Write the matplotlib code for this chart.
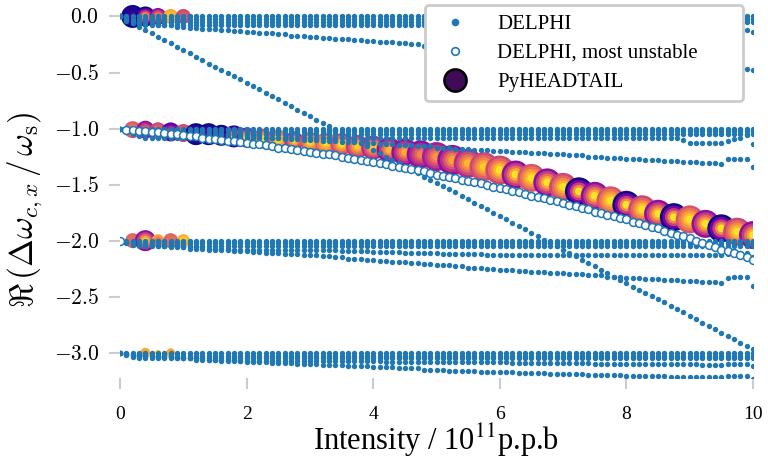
import numpy as np
import matplotlib.pyplot as plt
from matplotlib.lines import Line2D

plt.rcParams['font.family'] = ['Liberation Serif', 'DejaVu Serif']
plt.rcParams['mathtext.fontset'] = 'cm'

# intensity scan of DELPHI (10^11 p.p.b)
intensity = np.linspace(0, 10, 101)

# DELPHI azimuthal mode 0 branch
mode_0_a = [0.0] * 101
mode_0_b = [0.0, -0.01, -0.02] + [-0.025] * 98
mode_0_c = [0.0, -0.02, -0.04] + [-0.05] * 98
mode_0_d = [0.0, -0.03, -0.05, -0.07] + [-0.08] * 94 + [-0.10, -0.12, -0.14]
mode_0_e = [0.0, -0.04, -0.06, -0.06, -0.07, -0.07, -0.08, -0.08, -0.08, -0.09,
            -0.09, -0.10, -0.10, -0.11, -0.11, -0.11, -0.12, -0.12, -0.13, -0.13,
            -0.14, -0.14, -0.15, -0.15, -0.15, -0.16, -0.16, -0.17, -0.17, -0.17,
            -0.18, -0.18, -0.19, -0.19, -0.20, -0.20, -0.20, -0.21, -0.21, -0.22,
            -0.22, -0.23, -0.23, -0.23, -0.24, -0.24, -0.25, -0.25, -0.26, -0.26,
            -0.27, -0.27, -0.27, -0.28, -0.28, -0.29, -0.29, -0.29, -0.30, -0.30,
            -0.31, -0.31, -0.32, -0.32, -0.32, -0.33, -0.33, -0.34, -0.34, -0.35,
            -0.35, -0.35, -0.36, -0.36, -0.37, -0.37, -0.38, -0.38, -0.38, -0.39,
            -0.39, -0.40, -0.40, -0.41, -0.41, -0.41, -0.42, -0.42, -0.43, -0.43,
            -0.44, -0.44, -0.44, -0.45, -0.45, -0.46, -0.46, -0.47, -0.47, -0.47,
            -0.48]
mode_0_diag = [0.0, -0.03, -0.06, -0.09, -0.12, -0.15, -0.18, -0.21, -0.24, -0.27,
               -0.30, -0.33, -0.36, -0.39, -0.42, -0.45, -0.48, -0.50, -0.53, -0.56,
               -0.59, -0.62, -0.65, -0.68, -0.71, -0.74, -0.77, -0.80, -0.83, -0.86,
               -0.89, -0.92, -0.95, -0.98, -1.01, -1.04, -1.07, -1.10, -1.13, -1.16,
               -1.19, -1.22, -1.25, -1.28, -1.31, -1.34, -1.37, -1.40, -1.43, -1.46,
               -1.49, -1.51, -1.54, -1.57, -1.60, -1.63, -1.66, -1.69, -1.72, -1.75,
               -1.78, -1.81, -1.84, -1.87, -1.90, -1.93, -1.96, -1.99, -2.02, -2.05,
               -2.08, -2.11, -2.14, -2.17, -2.20, -2.23, -2.26, -2.29, -2.32, -2.35,
               -2.38, -2.41, -2.44, -2.47, -2.49, -2.52, -2.55, -2.58, -2.61, -2.64,
               -2.67, -2.70, -2.73, -2.76, -2.79, -2.82, -2.85, -2.88, -2.91, -2.94,
               -2.97]

# mode -1 branch
mode_1_a = [-1.0] * 101
mode_1_b = [-1.0, -1.01, -1.02] + [-1.025] * 98
mode_1_c = [-1.0, -1.02, -1.04] + [-1.05] * 98
mode_1_d = ([-1.0, -1.03, -1.05, -1.07] + [-1.08] * 85
            + [-1.10, -1.13, -1.13, -1.13, -1.13, -1.13, -1.13, -1.11, -1.09, -1.08, -1.06, -1.14])
mode_1_e = [-1.00, -1.00, -1.01, -1.01, -1.01, -1.02, -1.02, -1.02, -1.03, -1.03,
            -1.03, -1.04, -1.04, -1.04, -1.05, -1.05, -1.05, -1.06, -1.06, -1.06,
            -1.07, -1.07, -1.07, -1.08, -1.08, -1.08, -1.09, -1.09, -1.09, -1.10,
            -1.10, -1.10, -1.11, -1.11, -1.11, -1.12, -1.12, -1.12, -1.13, -1.13,
            -1.13, -1.14, -1.14, -1.14, -1.15, -1.15, -1.15, -1.16, -1.16, -1.16,
            -1.17, -1.17, -1.17, -1.18, -1.18, -1.18, -1.19, -1.19, -1.19, -1.20,
            -1.20, -1.20, -1.21, -1.21, -1.21, -1.22, -1.22, -1.22, -1.23, -1.23,
            -1.23, -1.24, -1.24, -1.24, -1.25, -1.25, -1.25, -1.26, -1.26, -1.26,
            -1.27, -1.27, -1.27, -1.28, -1.28, -1.28, -1.29, -1.29, -1.29, -1.30,
            -1.30, -1.30, -1.31, -1.31, -1.31, -1.32, -1.27, -1.27, -1.27, -1.27,
            -1.34]

# mode -2 branch
mode_2_a = [-2.0] * 101
mode_2_b = [-2.0, -2.01, -2.02] + [-2.025] * 98
mode_2_c = [-2.0, -2.02, -2.04] + [-2.05] * 98
mode_2_d = [-2.00, -2.01, -2.02, -2.03, -2.03, -2.04, -2.04, -2.05, -2.05, -2.05,
            -2.06, -2.06, -2.06, -2.06, -2.07, -2.07, -2.07, -2.07, -2.08, -2.08,
            -2.08, -2.08, -2.08, -2.08, -2.08, -2.08, -2.08, -2.08, -2.08, -2.08,
            -2.08, -2.08, -2.08, -2.08, -2.08, -2.09, -2.09, -2.09, -2.09, -2.09,
            -2.10, -2.10, -2.10, -2.10, -2.10, -2.11, -2.11, -2.11, -2.11, -2.11,
            -2.11, -2.12, -2.12, -2.12, -2.12, -2.12, -2.12, -2.12, -2.13, -2.13,
            -2.13, -2.13, -2.13, -2.13, -2.13, -2.13, -2.13, -2.13, -2.13, -2.13,
            -2.13, -2.13, -2.13, -2.13, -2.13, -2.13, -2.13, -2.13, -2.13, -2.13,
            -2.13, -2.13, -2.13, -2.13, -2.13, -2.13, -2.13, -2.13, -2.13, -2.13,
            -2.13, -2.13, -2.13, -2.13, -2.13, -2.13, -2.12, -2.12, -2.11, -2.11,
            -2.15]
mode_2_e = [-2.00, -2.01, -2.02, -2.03, -2.04, -2.04, -2.05, -2.05, -2.06, -2.06,
            -2.06, -2.07, -2.07, -2.07, -2.08, -2.08, -2.08, -2.08, -2.09, -2.09,
            -2.09, -2.10, -2.10, -2.11, -2.11, -2.11, -2.12, -2.12, -2.12, -2.13,
            -2.13, -2.13, -2.14, -2.14, -2.15, -2.15, -2.16, -2.16, -2.16, -2.17,
            -2.17, -2.18, -2.18, -2.19, -2.19, -2.19, -2.20, -2.20, -2.21, -2.21,
            -2.22, -2.22, -2.22, -2.23, -2.23, -2.24, -2.24, -2.24, -2.25, -2.25,
            -2.26, -2.26, -2.26, -2.27, -2.27, -2.28, -2.28, -2.28, -2.29, -2.29,
            -2.29, -2.30, -2.30, -2.30, -2.31, -2.31, -2.31, -2.32, -2.32, -2.32,
            -2.33, -2.33, -2.33, -2.34, -2.34, -2.34, -2.35, -2.35, -2.35, -2.36,
            -2.36, -2.36, -2.37, -2.37, -2.37, -2.38, -2.33, -2.32, -2.32, -2.32,
            -2.40]

# mode -3 branch
mode_3_a = [-3.0] * 101
mode_3_b = [-3.0, -3.01, -3.02] + [-3.025] * 98
mode_3_c = [-3.0, -3.02, -3.04] + [-3.05] * 98
mode_3_d = [-3.00, -3.01, -3.02, -3.02, -3.03, -3.03, -3.03, -3.04, -3.04, -3.04,
            -3.05, -3.05, -3.05, -3.05, -3.06, -3.06, -3.06, -3.06, -3.06, -3.07,
            -3.07, -3.07, -3.07, -3.07, -3.07, -3.07, -3.07, -3.07, -3.07, -3.07,
            -3.07, -3.07, -3.07, -3.07, -3.07, -3.07, -3.07, -3.07, -3.07, -3.07,
            -3.07, -3.07, -3.08, -3.08, -3.08, -3.08, -3.08, -3.08, -3.08, -3.08,
            -3.08, -3.08, -3.08, -3.08, -3.08, -3.08, -3.08, -3.08, -3.08, -3.08,
            -3.08, -3.08, -3.09, -3.09, -3.09, -3.09, -3.09, -3.09, -3.09, -3.09,
            -3.09, -3.09, -3.09, -3.09, -3.09, -3.10, -3.10, -3.10, -3.10, -3.10,
            -3.10, -3.10, -3.10, -3.10, -3.10, -3.10, -3.10, -3.10, -3.10, -3.10,
            -3.10, -3.10, -3.11, -3.11, -3.11, -3.11, -3.10, -3.10, -3.10, -3.10,
            -3.12]
mode_3_e = [-3.00, -3.01, -3.02, -3.02, -3.03, -3.03, -3.04, -3.04, -3.04, -3.05,
            -3.05, -3.05, -3.06, -3.06, -3.06, -3.06, -3.07, -3.07, -3.07, -3.07,
            -3.08, -3.08, -3.08, -3.08, -3.09, -3.09, -3.09, -3.09, -3.10, -3.10,
            -3.10, -3.10, -3.11, -3.11, -3.11, -3.11, -3.12, -3.12, -3.12, -3.12,
            -3.13, -3.13, -3.13, -3.13, -3.14, -3.14, -3.14, -3.14, -3.15, -3.15,
            -3.15, -3.15, -3.16, -3.16, -3.16, -3.16, -3.16, -3.17, -3.17, -3.17,
            -3.17, -3.17, -3.17, -3.18, -3.18, -3.18, -3.18, -3.18, -3.19, -3.19,
            -3.19, -3.19, -3.19, -3.19, -3.20, -3.20, -3.20, -3.20, -3.20, -3.20,
            -3.21, -3.21, -3.21, -3.21, -3.21, -3.21, -3.21, -3.22, -3.22, -3.22,
            -3.22, -3.22, -3.22, -3.22, -3.22, -3.22, -3.21, -3.21, -3.21, -3.21,
            -3.23]

# most unstable DELPHI mode
most_unstable = [-2.00, -1.01, -1.01, -1.02, -1.02, -1.03, -1.03, -1.04, -1.05, -1.05,
                 -1.06, -1.07, -1.07, -1.08, -1.09, -1.09, -1.10, -1.11, -1.11, -1.12,
                 -1.13, -1.14, -1.14, -1.15, -1.16, -1.17, -1.17, -1.18, -1.19, -1.20,
                 -1.21, -1.22, -1.23, -1.23, -1.24, -1.25, -1.26, -1.27, -1.28, -1.29,
                 -1.30, -1.31, -1.32, -1.33, -1.34, -1.35, -1.36, -1.37, -1.38, -1.40,
                 -1.41, -1.42, -1.43, -1.44, -1.46, -1.47, -1.48, -1.49, -1.50, -1.52,
                 -1.53, -1.54, -1.56, -1.57, -1.58, -1.60, -1.61, -1.62, -1.64, -1.65,
                 -1.66, -1.68, -1.69, -1.71, -1.72, -1.74, -1.75, -1.77, -1.78, -1.80,
                 -1.81, -1.83, -1.84, -1.86, -1.88, -1.89, -1.91, -1.93, -1.95, -1.96,
                 -1.98, -2.00, -2.02, -2.04, -2.06, -2.08, -2.09, -2.11, -2.13, -2.15,
                 -2.17]

delphi_modes = [mode_0_a, mode_0_b, mode_0_c, mode_0_d, mode_0_e, mode_0_diag,
                mode_1_a, mode_1_b, mode_1_c, mode_1_d, mode_1_e,
                mode_2_a, mode_2_b, mode_2_c, mode_2_d, mode_2_e,
                mode_3_a, mode_3_b, mode_3_c, mode_3_d, mode_3_e]

# PyHEADTAIL peaks: position, outer size (px), outer / inner colour (plasma)
pyht_x = [0.2, 0.4, 0.6, 0.8, 1.0,
          0.2, 0.4, 0.6, 0.8, 1.0,
          0.4, 0.6, 0.8,
          0.2, 0.4, 0.6, 0.8, 1.0, 1.2, 1.4, 1.6, 1.8, 2.0,
          2.25, 2.5, 2.75, 3.0, 3.25, 3.5, 3.75, 4.0, 4.25, 4.5, 4.75, 5.0,
          5.25, 5.5, 5.75, 6.0, 6.25, 6.5, 6.75, 7.0, 7.25, 7.5, 7.75, 8.0,
          8.25, 8.5, 8.75, 9.0, 9.25, 9.5, 9.75, 10.0]
pyht_y = [0.0, 0.0, 0.0, 0.0, 0.0,
          -2.0, -2.0, -2.0, -2.0, -2.0,
          -3.0, -3.0, -3.0,
          -1.01, -1.01, -1.02, -1.03, -1.04, -1.05, -1.05, -1.06, -1.07, -1.08,
          -1.09, -1.10, -1.11, -1.12, -1.13, -1.14, -1.16, -1.17, -1.19, -1.21, -1.23, -1.25,
          -1.28, -1.31, -1.34, -1.37, -1.41, -1.44, -1.48, -1.52, -1.56, -1.60, -1.64, -1.68,
          -1.72, -1.76, -1.79, -1.81, -1.85, -1.89, -1.92, -1.95]
pyht_size = [23, 20, 17, 15, 15,
             15, 21, 13, 15, 13,
             10, 6, 9,
             17, 18, 17, 19, 18, 22, 22, 21, 22, 20,
             20, 20, 19, 20, 21, 22, 23, 24, 25, 27, 28, 29,
             30, 29, 29, 29, 28, 28, 28, 28, 28, 28, 28, 28,
             28, 28, 28, 28, 28, 28, 28, 28]
pyht_c_out = [0.0, 0.0, 0.3, 0.8, 0.5,
              0.6, 0.3, 0.8, 0.6, 0.8,
              0.8, 0.95, 0.8,
              0.55, 0.3, 0.5, 0.15, 0.5, 0.0, 0.0, 0.0, 0.05, 0.3,
              0.5, 0.6, 0.4, 0.55, 0.6, 0.5, 0.45, 0.4, 0.3, 0.3, 0.3, 0.35,
              0.3, 0.4, 0.5, 0.5, 0.3, 0.55, 0.3, 0.5, 0.0, 0.3, 0.55, 0.0,
              0.5, 0.3, 0.0, 0.55, 0.3, 0.0, 0.5, 0.3]
pyht_c_in = [0.1, 0.9, 0.8, 0.9, 0.6,
             0.65, 0.95, 0.6, 0.65, 0.95,
             0.8, 0.95, 0.8,
             0.75, 0.7, 0.7, 0.6, 0.7, 0.15, 0.2, 0.3, 0.9, 0.95,
             0.95, 0.95, 0.9, 0.95, 0.95, 0.95, 0.9, 0.9, 0.85, 0.8, 0.7, 0.75,
             0.8, 0.85, 0.9, 0.95, 0.95, 0.95, 0.95, 0.95, 0.95, 0.95, 0.95, 0.95,
             0.95, 0.95, 0.95, 0.95, 0.95, 0.95, 0.95, 0.95]

fig = plt.figure(figsize=(7.68, 4.61), dpi=100)
ax = fig.add_axes([120 / 768, 1 - 378 / 461, 633 / 768, 375 / 461])

# PyHEADTAIL: concentric rings going through the plasma map
cmap = plt.get_cmap('plasma')
rx, ry, rs, rc = [], [], [], []
for x, y, d, c0, c1 in zip(pyht_x, pyht_y, pyht_size, pyht_c_out, pyht_c_in):
    for k in range(5):
        f = k / 4
        rx.append(x)
        ry.append(y)
        rs.append((d * 0.72 * (1 - 0.72 * f)) ** 2)
        rc.append(cmap(c0 + (c1 - c0) * f))
ax.scatter(rx, ry, s=rs, c=rc, linewidths=0, zorder=1)

for m in delphi_modes:
    ax.scatter(intensity, m, s=15, color='#1f77b4', linewidths=0, zorder=2)
ax.scatter(intensity, most_unstable, s=15, color='#1f77b4', linewidths=0, zorder=2)
ax.scatter(intensity, most_unstable, s=32, facecolor='white', edgecolor='#1f77b4',
           linewidths=1.1, zorder=3)

ax.set_xlim(0, 10)
ax.set_ylim(-3.225, 0.12)
for sp in ax.spines.values():
    sp.set_visible(False)

yt = [0.0, -0.5, -1.0, -1.5, -2.0, -2.5, -3.0]
ax.set_yticks(yt, ['$%s$' % ('%.1f' % v if v >= 0 else '-%.1f' % -v) for v in yt])
ax.set_xticks([0, 2, 4, 6, 8, 10], ['0', '2', '4', '6', '8', '10'])
ax.tick_params(axis='both', color='#cccccc', width=1.5, length=8)
ax.tick_params(axis='y', labelsize=15.5, pad=7)
ax.tick_params(axis='x', labelsize=14, pad=12)

ax.set_xlabel('Intensity / 10$^{\\mathrm{11}}$p.p.b', fontsize=22, labelpad=-1,
              math_fontfamily='stix')
ax.set_ylabel(r'$\Re\,(\Delta\omega_{c,x}\,/\,\omega_\mathrm{s})$', fontsize=24)
ax.yaxis.set_label_coords(-0.118, 0.45)

handles = [
    Line2D([], [], ls='', marker='o', markersize=5.5, color='#1f77b4', markeredgewidth=0),
    Line2D([], [], ls='', marker='o', markersize=5.5, markerfacecolor='white',
           markeredgecolor='#1f77b4', markeredgewidth=1.2),
    Line2D([], [], ls='', marker='o', markersize=16, markerfacecolor='#3f0a57',
           markeredgecolor='black', markeredgewidth=1.8),
]
leg = ax.legend(handles, ['DELPHI', 'DELPHI, most unstable', 'PyHEADTAIL'],
                loc='upper left', mode='expand',
                bbox_to_anchor=(425 / 768, 1 - 98 / 461, 318 / 768, 93 / 461),
                bbox_transform=fig.transFigure, borderaxespad=0, fontsize=15,
                framealpha=1, edgecolor='#cccccc', handletextpad=1.0, borderpad=0.45,
                labelspacing=0.45)
leg.get_frame().set_linewidth(2)

fig.savefig('out.png', dpi=100)
